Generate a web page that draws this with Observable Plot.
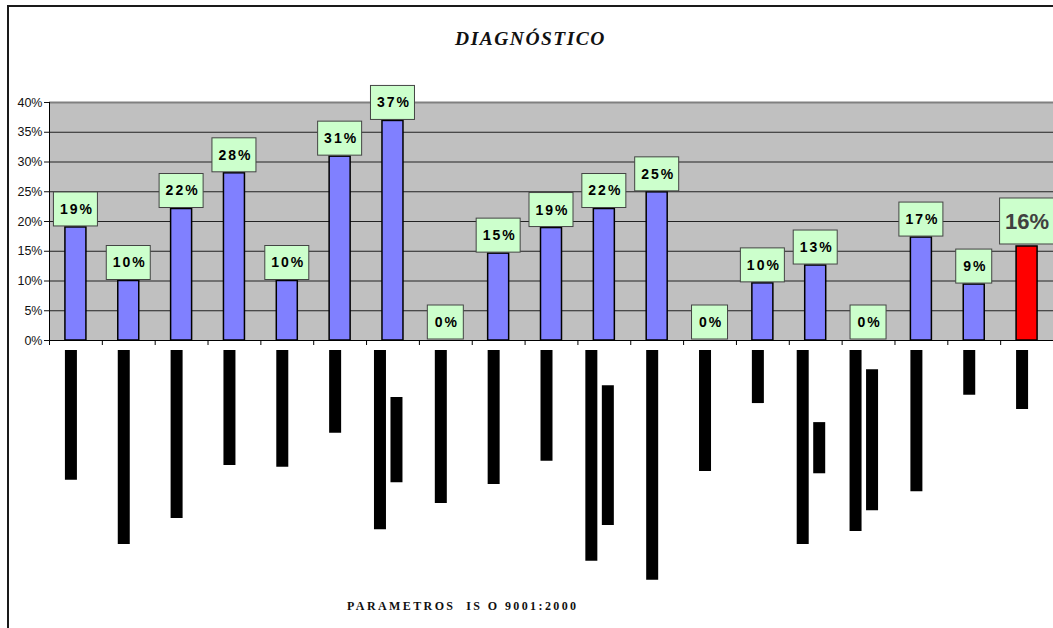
<!DOCTYPE html>
<html>
<head>
<meta charset="utf-8">
<script src="https://cdn.jsdelivr.net/npm/d3@7"></script>
<script src="https://cdn.jsdelivr.net/npm/@observablehq/plot@0.6"></script>
<style>
  body { margin: 0; background: #fff; overflow: hidden; }
  #chart { position: relative; width: 1053px; height: 628px; }
  #chart svg { position: absolute; left: 0; top: 0; }
  #marco { position: absolute; left: 7px; top: 5px; right: -4px; bottom: -4px; border-left: 2px solid #1a1a1a; border-top: 2px solid #1a1a1a; }
  #titulo { position: absolute; left: 8px; right: 0; top: 28px; text-align: center; font: italic bold 19.5px "Liberation Serif", serif; letter-spacing: 1.5px; color: #111; }
  #pie { position: absolute; left: 347px; top: 599px; font: bold 12px "Liberation Serif", serif; letter-spacing: 2.4px; white-space: pre; color: #111; }
</style>
</head>
<body>
<div id="chart">
  <div id="marco"></div>
  <div id="titulo">DIAGNÓSTICO</div>
  <div id="pie">PARAMETROS  IS O 9001:2000</div>
</div>
<script>
// Porcentaje de cumplimiento por parámetro (el último es el promedio general)
const parametros = ["P1", "P2", "P3", "P4", "P5", "P6", "P7", "P8", "P9", "P10",
                    "P11", "P12", "P13", "P14", "P15", "P16", "P17", "P18", "Promedio"];
const valores = [19, 10, 22.1, 28.1, 10, 30.9, 36.9, 0, 14.6, 18.9,
                 22.1, 24.9, 0, 9.6, 12.6, 0, 17.3, 9.4, 15.8];

// Rótulos verticales bajo el eje (largo de cada renglón, en unidades del eje)
const rotulo1 = [23.5, 34.3, 29.9, 21.0, 21.3, 15.6, 31.8, 27.4, 24.2, 20.3,
                 37.1, 40.3, 22.0, 10.6, 34.3, 32.1, 25.4, 9.2, 11.6];
const rotulo2Ini = [null, null, null, null, null, null, 9.6, null, null, null,
                    7.6, null, null, null, 13.8, 4.9, null, null, null];
const rotulo2Fin = [null, null, null, null, null, null, 23.9, null, null, null,
                    31.1, null, null, null, 22.4, 28.6, null, null, null];

const yTicks = [0, 5, 10, 15, 20, 25, 30, 35, 40];

const azul = "#8080ff", rojo = "#ff0000", verde = "#ccffcc", gris = "#c0c0c0";

// Geometría del gráfico
const W = 1053, H = 628, ML = 49, MR = 0, MT = 102, MB = 50;
const yMin = -40, yMax = 40;
const n = parametros.length;
const banda = (W - ML - MR) / n;          // px por categoría
const pxU = (H - MT - MB) / (yMax - yMin);  // px por punto porcentual
const inicioRotulo = 10 / pxU;

const datos = parametros.map((p, i) => ({
  p, i, c: i + 0.5, v: valores[i],
  etiqueta: Math.round(valores[i]) + "%",
  color: i === n - 1 ? rojo : azul,
  destacado: i === n - 1,
  r1: rotulo1[i], r2a: rotulo2Ini[i], r2b: rotulo2Fin[i]
}));

const normales = datos.filter(d => !d.destacado);
const resaltado = datos.filter(d => d.destacado);
const anchoCaja = d => d.destacado ? 54 : (d.etiqueta.length > 2 ? 44 : 36);

const plot = Plot.plot({
  width: W, height: H,
  marginLeft: ML, marginRight: MR, marginTop: MT, marginBottom: MB,
  style: { background: "transparent", fontFamily: "'Liberation Sans', Arial, sans-serif", fontSize: "12.5px", color: "#111", overflow: "visible" },
  x: { domain: [0, n], axis: null },
  y: { domain: [yMin, yMax], ticks: yTicks, tickFormat: d => d + "%", tickSize: 5, tickPadding: 2, label: null },
  marks: [
    // área de trazado gris
    Plot.rect([0], { x1: 0, x2: n, y1: 0, y2: yMax, fill: gris }),
    Plot.ruleY(yTicks.filter(t => t > 0 && t < yMax), { x1: 0, x2: n, stroke: "#222", strokeWidth: 1 }),
    Plot.ruleY([yMax], { x1: 0, x2: n, stroke: "#808080", strokeWidth: 2 }),
    // barras
    Plot.rect(datos, { x1: d => d.c - 10.5 / banda, x2: d => d.c + 10.5 / banda, y1: 0, y2: "v", fill: "color", stroke: "#000", strokeWidth: 1.5 }),
    // ejes
    Plot.ruleX([0], { y1: 0, y2: yMax, stroke: "#000" }),
    Plot.ruleY([0], { x1: 0, x2: n, stroke: "#000" }),
    Plot.ruleX(d3.range(0, n + 1), { x: d => d, y1: 0, y2: -5 / pxU, stroke: "#000" }),
    // rótulos verticales
    Plot.ruleX(datos.filter(d => d.r2a == null), { x: "c", y1: -inicioRotulo, y2: d => -d.r1, dx: -5, stroke: "#000", strokeWidth: 12 }),
    Plot.ruleX(datos.filter(d => d.r2a != null), { x: "c", y1: -inicioRotulo, y2: d => -d.r1, dx: -13, stroke: "#000", strokeWidth: 12 }),
    Plot.ruleX(datos.filter(d => d.r2a != null), { x: "c", y1: d => -d.r2a, y2: d => -d.r2b, dx: 3.5, stroke: "#000", strokeWidth: 12 }),
    // cajas de etiquetas
    Plot.rect(normales, {
      x1: d => d.c - anchoCaja(d) / 2 / banda, x2: d => d.c + anchoCaja(d) / 2 / banda,
      y1: d => d.v + 1 / pxU, y2: d => d.v + 35 / pxU,
      fill: verde, stroke: "#444", strokeWidth: 1
    }),
    Plot.rect(resaltado, {
      x1: d => d.c - anchoCaja(d) / 2 / banda, x2: d => d.c + anchoCaja(d) / 2 / banda,
      y1: d => d.v + 2 / pxU, y2: d => d.v + 48 / pxU,
      fill: verde, stroke: "#444", strokeWidth: 1
    }),
    Plot.text(normales, { x: "c", y: "v", text: "etiqueta", dy: -18, dx: 1, fontSize: 14, fontWeight: "bold", fill: "#000" }),
    Plot.text(resaltado, { x: "c", y: "v", text: "etiqueta", dy: -25, fontSize: 22, fontWeight: "bold", fill: "#404040" })
  ]
});

// etiquetas de valor con espaciado entre caracteres
d3.select(plot).selectAll('g[aria-label="text"]')
  .filter((d, i) => i === 0)
  .selectAll("text")
  .attr("letter-spacing", "2px");

document.getElementById("chart").prepend(plot);
</script>
</body>
</html>
